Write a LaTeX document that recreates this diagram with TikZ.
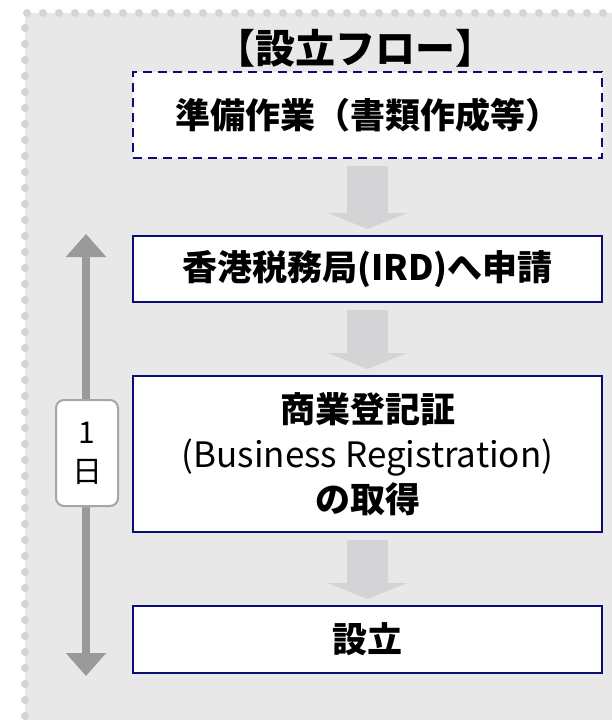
\documentclass[tikz,border=0pt]{standalone}
\usepackage{fontspec}
\usetikzlibrary{arrows.meta}
\newfontfamily\jp{Noto Sans CJK JP}
\definecolor{panelc}{HTML}{E8E8E8}
\definecolor{dotc}{HTML}{D4D4D4}
\definecolor{navyc}{HTML}{0C0C78}
\definecolor{flowc}{HTML}{D4D4D6}
\definecolor{spanc}{HTML}{9A9A9A}
\definecolor{labc}{HTML}{A6A6A6}
\tikzset{
  stepbox/.style={draw=navyc, line width=2pt, fill=white, inner sep=0pt, outer sep=0pt,
    minimum width=469pt, align=center, font=\jp\bfseries\fontsize{35}{45}\selectfont},
  prepbox/.style={stepbox, dash pattern=on 9pt off 6pt},
  flowarrow/.style={draw=flowc, line width=41pt, shorten <=8pt, shorten >=7pt,
    -{Triangle[width=79pt,length=16pt]}},
  spanarrow/.style={draw=spanc, line width=8pt,
    {Triangle[width=39pt,length=23pt]}-{Triangle[width=39pt,length=23pt]}},
  daylabel/.style={draw=labc, line width=2pt, fill=white, rounded corners=8pt,
    minimum width=62pt, minimum height=106pt, inner sep=0pt, align=center,
    font=\jp\fontsize{30}{39}\selectfont},
  titletext/.style={font=\jp\bfseries\fontsize{40}{46}\selectfont, inner sep=0pt}
}
\begin{document}
\begin{tikzpicture}[x=1pt, y=-1pt]
\useasboundingbox (0,0) rectangle (612,720);
% panel
\fill[panelc] (25,13) rectangle (612,720);
\foreach \i in {0,...,36} \fill[dotc] (27+16*\i,13) circle (4pt);
\foreach \j in {0,...,43} \fill[dotc] (25,28+16*\j) circle (4pt);
% title
\node[titletext] (title) at (355,48) {【設立フロー】};
% steps
\node[prepbox, minimum height=86pt] (b1) at (367.5,115) {準備作業（書類作成等）};
\node[stepbox, minimum height=66pt] (b2) at (367.5,269) {香港税務局(IRD)へ申請};
\node[stepbox, minimum height=156pt] (b3) at (367.5,454) {商業登記証\\{\mdseries (Business Registration)}\\の取得};
\node[stepbox, minimum height=67pt] (b4) at (367.5,639.5) {設立};
% flow arrows
\draw[flowarrow] (b1.south) -- (b2.north);
\draw[flowarrow] (b2.south) -- (b3.north);
\draw[flowarrow] (b3.south) -- (b4.north);
% span arrow
\coordinate (st) at (86,234);
\coordinate (sb) at (86,676);
\draw[spanarrow] (st) -- (sb);
\node[daylabel] (day) at (87,453) {1\\日};
\end{tikzpicture}
\end{document}
